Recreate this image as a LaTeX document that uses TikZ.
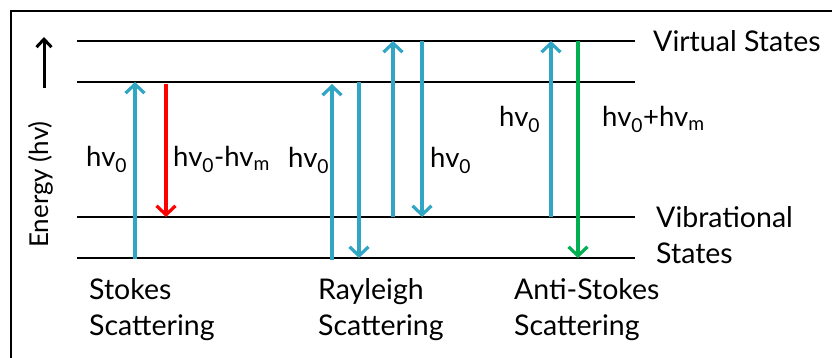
\documentclass[tikz,border=0pt]{standalone}
\usepackage{fontspec}
\setmainfont{Lato}
\usetikzlibrary{arrows.meta}
\definecolor{ablue}{RGB}{49,165,196}
\definecolor{ared}{RGB}{255,0,0}
\definecolor{agreen}{RGB}{0,176,80}
\begin{document}
\begin{tikzpicture}[x=1pt,y=-1pt,
  lvl/.style={line width=2pt},
  photon/.style={line width=3.2pt,-{Straight Barb[length=9pt,width=19pt]}},
  txt/.style={font=\fontsize{28.5}{34}\selectfont,anchor=base west,inner sep=0pt},
  lbl/.style={font=\fontsize{27.5}{32}\selectfont,anchor=base west,inner sep=0pt}]
\useasboundingbox (0,0) rectangle (832,358);
% frame (top and left edges)
\draw[line width=1.8pt] (832,11) -- (11,11) -- (11,358);
% energy levels
\draw[lvl] (77,41) -- (635,41);
\draw[lvl] (77,82) -- (635,82);
\draw[lvl] (77,217) -- (635,217);
\draw[lvl] (77,258) -- (635,258);
% coordinates
\coordinate (sU0) at (135,259);  \coordinate (sU1) at (135,82);
\coordinate (sD0) at (166,84);   \coordinate (sD1) at (166,217);
\coordinate (rU0) at (332,260);  \coordinate (rU1) at (332,84);
\coordinate (rD0) at (359,82);   \coordinate (rD1) at (359,258);
\coordinate (rV0) at (393,217);  \coordinate (rV1) at (393,41);
\coordinate (rW0) at (422,41);   \coordinate (rW1) at (422,217);
\coordinate (aU0) at (551,217);  \coordinate (aU1) at (551,41);
\coordinate (aD0) at (578,41);   \coordinate (aD1) at (578,258);
% photons
\draw[photon,ablue] (sU0) -- (sU1);
\draw[photon,ared] (sD0) -- (sD1);
\draw[photon,ablue] (rU0) -- (rU1);
\draw[photon,ablue] (rD0) -- (rD1);
\draw[photon,ablue] (rV0) -- (rV1);
\draw[photon,ablue] (rW0) -- (rW1);
\draw[photon,ablue] (aU0) -- (aU1);
\draw[photon,agreen] (aD0) -- (aD1);
% photon labels
\node[lbl] (l1) at (86,167) {hv\textsubscript{0}};
\node[lbl] (l2) at (173,167) {hv\textsubscript{0}-hv\textsubscript{m}};
\node[lbl] (l3) at (288,168) {hv\textsubscript{0}};
\node[lbl] (l4) at (430,168) {hv\textsubscript{0}};
\node[lbl] (l5) at (499,127) {hv\textsubscript{0}};
\node[lbl] (l6) at (602,127) {hv\textsubscript{0}+hv\textsubscript{m}};
% state labels
\node[txt] (vs) at (653,52) {Virtual States};
\node[txt] (vb) at (656,227) {Vibrational};
\node[txt] (vb2) at (656,263) {States};
% scattering labels
\node[txt] (st1) at (89,299) {Stokes};
\node[txt] (st2) at (89,335) {Scattering};
\node[txt] (ra1) at (318,299) {Rayleigh};
\node[txt] (ra2) at (318,335) {Scattering};
\node[txt] (as1) at (514,299) {Anti-Stokes};
\node[txt] (as2) at (514,335) {Scattering};
% energy axis
\node[txt,font=\fontsize{26}{30}\selectfont,rotate=90] (en) at (48,248) {Energy (hv)};
\coordinate (eA) at (44,88);
\coordinate (eB) at (44,37);
\draw[line width=3pt,-{Straight Barb[length=8pt,width=15pt]}] (eA) -- (eB);
\end{tikzpicture}
\end{document}
